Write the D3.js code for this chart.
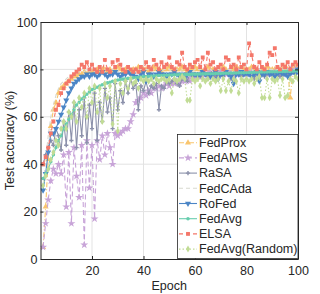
<!DOCTYPE html>
<html>
<head>
<meta charset="utf-8">
<script src="https://cdnjs.cloudflare.com/ajax/libs/d3/7.8.5/d3.min.js"></script>
<style>
	body { margin: 0; background: #fff; }
	svg text { font-family: "Liberation Sans", Arial, Helvetica, sans-serif; fill: #262626; }
</style>
</head>
<body>
<div id="chart"></div>
<script>
// epochs 1..100
var epochs = d3.range(1, 101);

var seriesNames = ['FedProx', 'FedAMS', 'RaSA', 'FedCAda', 'RoFed', 'FedAvg', 'ELSA', 'FedAvg(Random)'];

var xTicks = [20, 40, 60, 80, 100];
var yTicks = [0, 20, 40, 60, 80, 100];

var fedProx = [
	5, 22, 42, 56, 63, 66, 70, 72, 73, 74,
	75, 76, 77, 77, 78, 78, 79, 78, 79, 79,
	79, 80, 79, 80, 80, 79, 80, 79, 80, 81,
	80, 79, 80, 80, 79, 80, 80, 81, 79, 80,
	80, 79, 80, 81, 80, 80, 79, 80, 80, 81,
	80, 79, 80, 80, 81, 80, 79, 80, 80, 81,
	80, 80, 79, 80, 81, 80, 80, 79, 80, 80,
	81, 80, 79, 80, 80, 81, 80, 79, 80, 80,
	80, 81, 80, 80, 79, 80, 80, 81, 80, 80,
	80, 80, 80, 80, 81, 80, 68, 80, 81, 80
];
var fedAMS = [
	5, 15, 25, 33, 38, 36, 40, 36, 44, 22,
	45, 15, 47, 35, 26, 48, 6, 50, 30, 48,
	17, 50, 42, 52, 44, 53, 47, 40, 53, 52,
	53, 54, 55, 55, 58, 61, 66, 67, 68, 70,
	69, 71, 70, 72, 72, 73, 72, 73, 74, 73,
	74, 74, 75, 74, 75, 75, 76, 75, 76, 77,
	77, 78, 77, 78, 78, 79, 78, 77, 78, 79,
	78, 78, 79, 78, 77, 78, 79, 78, 78, 79,
	78, 79, 78, 78, 79, 78, 79, 78, 79, 78,
	79, 78, 79, 79, 78, 79, 80, 79, 80, 80
];
var raSA = [
	40, 44, 47, 50, 48, 55, 52, 46, 58, 48,
	62, 50, 66, 47, 63, 52, 68, 49, 65, 55,
	70, 50, 66, 58, 72, 62, 68, 55, 74, 63,
	71, 66, 75, 70, 76, 72, 74, 63, 73, 71,
	75, 70, 73, 72, 74, 63, 73, 72, 75, 74,
	75, 76, 74, 73, 76, 77, 75, 78, 77, 78,
	78, 77, 79, 78, 76, 78, 79, 77, 78, 78,
	77, 79, 78, 76, 78, 79, 78, 77, 78, 79,
	78, 77, 76, 78, 79, 78, 77, 78, 79, 78,
	78, 79, 77, 78, 79, 78, 80, 79, 78, 80
];
var fedCAda = [
	30, 42, 52, 60, 65, 69, 72, 74, 75, 76,
	77, 77, 78, 78, 79, 79, 79, 80, 79, 80,
	79, 80, 80, 79, 80, 80, 79, 80, 80, 79,
	80, 80, 79, 80, 80, 79, 80, 80, 80, 79,
	80, 80, 79, 80, 80, 80, 79, 80, 80, 80,
	79, 80, 80, 80, 79, 80, 80, 80, 79, 80,
	80, 80, 79, 80, 80, 80, 79, 80, 80, 80,
	79, 80, 80, 80, 79, 80, 80, 80, 79, 80,
	80, 80, 79, 80, 80, 80, 79, 80, 80, 80,
	79, 80, 80, 80, 79, 80, 80, 80, 80, 80
];
var roFed = [
	29, 36, 45, 53, 53, 55, 58, 61, 64, 67,
	70, 72, 74, 75, 76, 77, 77, 78, 77, 78,
	78, 77, 78, 79, 78, 77, 78, 78, 79, 78,
	77, 78, 78, 79, 78, 78, 77, 76, 78, 79,
	75, 78, 78, 77, 78, 79, 78, 78, 77, 78,
	78, 79, 78, 77, 78, 76, 78, 79, 78, 78,
	77, 78, 79, 78, 78, 77, 78, 79, 76, 78,
	78, 79, 78, 77, 74, 78, 78, 79, 78, 78,
	78, 77, 78, 79, 75, 78, 78, 79, 78, 78,
	77, 78, 79, 78, 78, 77, 78, 79, 78, 80
];
var fedAvg = [
	34, 36, 38, 41, 44, 47, 50, 52, 55, 57,
	59, 61, 63, 65, 66, 67.5, 68.5, 69.5, 70.5, 71.5,
	72, 72.5, 73, 73.5, 74, 74.3, 74.6, 75, 75.2, 75.5,
	75.7, 75.9, 76, 76.2, 76.3, 76.5, 76.6, 76.7, 76.8, 77,
	77, 77.1, 77.2, 77.2, 77.3, 77.4, 77.4, 77.5, 77.5, 77.6,
	77.6, 77.7, 77.7, 77.8, 77.8, 77.8, 77.9, 77.9, 78, 78,
	78, 78.1, 78.1, 78.1, 78.2, 78.2, 78.2, 78.3, 78.3, 78.3,
	78.4, 78.4, 78.4, 78.5, 78.5, 78.5, 78.6, 78.6, 78.6, 78.7,
	78.7, 78.7, 78.8, 78.8, 78.8, 78.9, 78.9, 78.9, 79, 79,
	79, 79, 79.1, 79.1, 79.1, 79.2, 79.2, 79.2, 79.3, 79.3
];
var elsa = [
	40, 43, 47, 53, 58, 63, 65, 70, 72, 74,
	75, 77, 78, 79, 80, 82, 81, 83, 80, 82,
	80, 79, 81, 79, 84, 80, 79, 83, 81, 84,
	82, 80, 79, 81, 80, 79, 80, 79, 81, 80,
	83, 81, 80, 84, 82, 80, 83, 81, 82, 85,
	81, 80, 83, 82, 87, 81, 80, 82, 81, 83,
	84, 81, 85, 80, 87, 82, 83, 80, 81, 82,
	80, 85, 84, 81, 82, 80, 85, 81, 82, 80,
	91, 86, 81, 80, 83, 81, 80, 82, 87, 86,
	89, 81, 80, 82, 81, 83, 80, 82, 83, 82
];
var fedAvgRandom = [
	31, 35, 38, 42, 45, 50, 48, 55, 58, 55,
	62, 60, 66, 58, 68, 64, 70, 60, 72, 66,
	73, 62, 72, 58, 74, 68, 73, 57, 75, 54,
	74, 70, 75, 72, 76, 74, 75, 72, 76, 75,
	76, 75, 76, 74, 76, 75, 76, 76, 75, 76,
	70, 76, 75, 76, 77, 76, 67, 67, 76, 75,
	76, 73, 76, 75, 76, 74, 76, 75, 76, 71,
	76, 71, 75, 71, 76, 75, 70, 76, 75, 76,
	75, 76, 74, 76, 77, 68, 68, 76, 68, 76,
	75, 76, 69, 76, 68, 69, 76, 75, 77, 76
];

var seriesValues = [fedProx, fedAMS, raSA, fedCAda, roFed, fedAvg, elsa, fedAvgRandom];
var seriesColors = ['#f9c56e', '#c8a4d8', '#8c91ab', '#d8d9cf', '#4b85c6', '#67cdae', '#f4776a', '#c1dc95'];
var seriesDash = ['5,2,1,2', '5,3', null, '4,3', null, null, '4,3', '1.5,2'];
var seriesSymbol = [d3.symbolTriangle, d3.symbolStar, d3.symbolCross, null, d3.symbolTriangle, d3.symbolCircle, d3.symbolSquare, d3.symbolDiamond];
var symbolRotate = [0, 0, 0, 0, 180, 0, 0, 0];
var symbolSize = [16, 20, 10, 0, 16, 10, 15, 14];

var width = 320, height = 294;
var plotLeft = 40.5, plotRight = 298, plotTop = 22, plotBottom = 259;

var svg = d3.select('#chart')
	.append('svg')
	.attr('width', width)
	.attr('height', height);

var x = d3.scaleLinear().domain([0, 100]).range([plotLeft, plotRight]);
var y = d3.scaleLinear().domain([0, 100]).range([plotBottom, plotTop]);

//grid
svg.append('g')
	.selectAll('line')
	.data(xTicks.slice(0, -1))
	.enter()
	.append('line')
	.attr('x1', function (d) { return x(d); })
	.attr('x2', function (d) { return x(d); })
	.attr('y1', plotTop)
	.attr('y2', plotBottom)
	.attr('stroke', '#e3e3e3')
	.attr('stroke-width', 1);

svg.append('g')
	.selectAll('line')
	.data(yTicks.slice(1, -1))
	.enter()
	.append('line')
	.attr('x1', plotLeft)
	.attr('x2', plotRight)
	.attr('y1', function (d) { return y(d); })
	.attr('y2', function (d) { return y(d); })
	.attr('stroke', '#e3e3e3')
	.attr('stroke-width', 1);

svg.append('clipPath')
	.attr('id', 'plotclip')
	.append('rect')
	.attr('x', plotLeft)
	.attr('y', plotTop)
	.attr('width', plotRight - plotLeft)
	.attr('height', plotBottom - plotTop);

var plot = svg.append('g').attr('clip-path', 'url(#plotclip)');

var line = d3.line()
	.x(function (d, i) { return x(epochs[i]); })
	.y(function (d) { return y(d); });

seriesValues.forEach(function (vals, k) {
	var g = plot.append('g');
	g.append('path')
		.attr('d', line(vals))
		.attr('fill', 'none')
		.attr('stroke', seriesColors[k])
		.attr('stroke-width', 1.1)
		.attr('stroke-dasharray', seriesDash[k]);
	if (seriesSymbol[k]) {
		var sym = d3.symbol().type(seriesSymbol[k]).size(symbolSize[k]);
		g.selectAll('path.m')
			.data(vals)
			.enter()
			.append('path')
			.attr('class', 'm')
			.attr('d', sym)
			.attr('fill', seriesColors[k])
			.attr('transform', function (d, i) {
				return 'translate(' + x(epochs[i]) + ',' + y(d) + ') rotate(' + symbolRotate[k] + ')';
			});
	}
});

//axes, ticks pointing inward on all four sides
function styleAxis(g) {
	g.selectAll('.domain').attr('stroke', '#262626');
	g.selectAll('.tick line').attr('stroke', '#262626');
	g.selectAll('text').style('font-size', '12.5px').attr('fill', '#262626');
}

svg.append('g')
	.attr('transform', 'translate(0,' + plotBottom + ')')
	.call(d3.axisBottom(x).tickValues(xTicks).tickSizeInner(-3).tickSizeOuter(0).tickPadding(7))
	.call(styleAxis);

svg.append('g')
	.attr('transform', 'translate(0,' + plotTop + ')')
	.call(d3.axisTop(x).tickValues(xTicks).tickSizeInner(-3).tickSizeOuter(0).tickFormat(''))
	.call(styleAxis);

svg.append('g')
	.attr('transform', 'translate(' + plotLeft + ',0)')
	.call(d3.axisLeft(y).tickValues(yTicks).tickSizeInner(-3).tickSizeOuter(0).tickPadding(3))
	.call(styleAxis);

svg.append('g')
	.attr('transform', 'translate(' + plotRight + ',0)')
	.call(d3.axisRight(y).tickValues(yTicks).tickSizeInner(-3).tickSizeOuter(0).tickFormat(''))
	.call(styleAxis);

//axis titles
svg.append('text')
	.attr('x', (plotLeft + plotRight) / 2)
	.attr('y', 290)
	.attr('text-anchor', 'middle')
	.style('font-size', '12.5px')
	.text('Epoch');

svg.append('text')
	.attr('transform', 'translate(14,' + (plotTop + plotBottom) / 2 + ') rotate(-90)')
	.attr('text-anchor', 'middle')
	.style('font-size', '12.5px')
	.text('Test accuracy (%)');

//legend
var legend = svg.append('g');
legend.append('rect')
	.attr('x', 177.5)
	.attr('y', 134.5)
	.attr('width', plotRight - 177.5)
	.attr('height', 124)
	.attr('fill', '#fff')
	.attr('stroke', '#262626')
	.attr('stroke-width', 0.8);

var rows = legend.selectAll('g.row')
	.data(seriesNames)
	.enter()
	.append('g')
	.attr('class', 'row')
	.attr('transform', function (d, i) { return 'translate(0,' + (142.7 + i * 15.2) + ')'; });

rows.append('line')
	.attr('x1', 179)
	.attr('x2', 197)
	.attr('stroke', function (d, i) { return seriesColors[i]; })
	.attr('stroke-width', 1.1)
	.attr('stroke-dasharray', function (d, i) { return seriesDash[i]; });

rows.filter(function (d, i) { return seriesSymbol[i]; })
	.append('path')
	.attr('d', function (d) {
		var i = seriesNames.indexOf(d);
		return d3.symbol().type(seriesSymbol[i]).size(symbolSize[i])();
	})
	.attr('fill', function (d) { return seriesColors[seriesNames.indexOf(d)]; })
	.attr('transform', function (d) { return 'translate(188,0) rotate(' + symbolRotate[seriesNames.indexOf(d)] + ')'; });

rows.append('text')
	.attr('x', 199)
	.attr('dy', '0.35em')
	.style('font-size', '12.5px')
	.text(function (d) { return d; });
</script>
</body>
</html>
